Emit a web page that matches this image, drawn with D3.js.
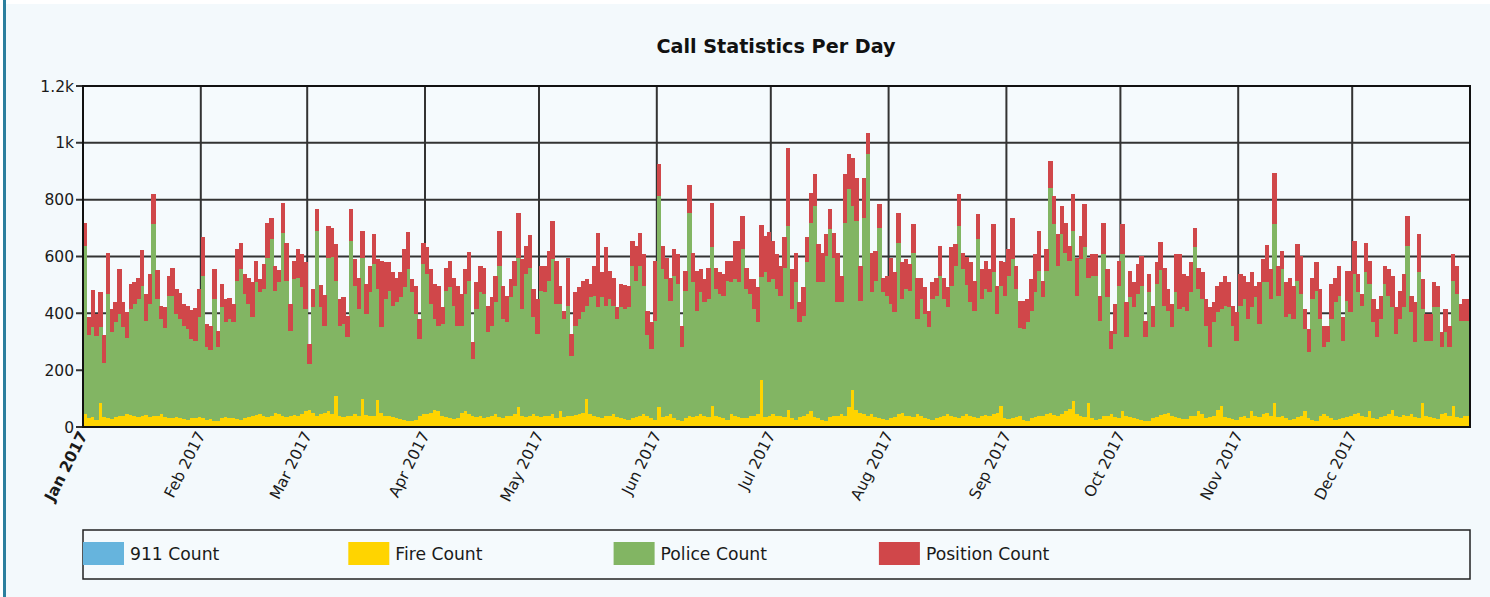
<!DOCTYPE html>
<html><head><meta charset="utf-8">
<script src="https://cdn.jsdelivr.net/npm/d3@7"></script>
<style>
body{margin:0;background:#fff;}
svg{display:block;font-family:"DejaVu Sans",sans-serif;}
</style></head><body>
<svg id="chart" width="1490" height="597"></svg>
<script>
const chartTitle = "Call Statistics Per Day";
const seriesNames = ["911 Count", "Fire Count", "Police Count", "Position Count"];
const seriesColors = ["#66b4dd", "#ffd400", "#82b563", "#d0474a"];
const yTickValues = [0, 200, 400, 600, 800, 1000, 1200];
const yTickLabels = ["0", "200", "400", "600", "800", "1k", "1.2k"];
const monthLabels = ["Jan 2017","Feb 2017","Mar 2017","Apr 2017","May 2017","Jun 2017","Jul 2017","Aug 2017","Sep 2017","Oct 2017","Nov 2017","Dec 2017"];
const firstDay = "2017-01-01", endDay = "2018-01-01";

const count911 = [
0,0,0,0,0,0,0,0,0,0,0,0,0,0,0,0,0,0,0,0,0,0,0,0,0,0,0,0,0,0,0,
0,0,0,0,0,0,0,0,0,0,0,0,0,0,0,0,0,0,0,0,0,0,0,0,0,0,0,0,
0,0,0,0,0,0,0,0,0,0,0,0,0,0,0,0,0,0,0,0,0,0,0,0,0,0,0,0,0,0,0,
0,0,0,0,0,0,0,0,0,0,0,0,0,0,0,0,0,0,0,0,0,0,0,0,0,0,0,0,0,0,
0,0,0,0,0,0,0,0,0,0,0,0,0,0,0,0,0,0,0,0,0,0,0,0,0,0,0,0,0,0,0,
0,0,0,0,0,0,0,0,0,0,0,0,0,0,0,0,0,0,0,0,0,0,0,0,0,0,0,0,0,0,
0,0,0,0,0,0,0,0,0,0,0,0,0,0,0,0,0,0,0,0,0,0,0,0,0,0,0,0,0,0,0,
0,0,0,0,0,0,0,0,0,0,0,0,0,0,0,0,0,0,0,0,0,0,0,0,0,0,0,0,0,0,0,
0,0,0,0,0,0,0,0,0,0,0,0,0,0,0,0,0,0,0,0,0,0,0,0,0,0,0,0,0,0,
0,0,0,0,0,0,0,0,0,0,3,0,0,0,0,0,2,0,0,0,0,0,0,0,0,0,0,0,0,0,0,
0,0,0,0,0,0,0,0,0,0,0,0,0,0,0,0,0,0,0,0,0,0,0,0,0,0,0,0,0,0,
0,0,0,0,0,0,0,0,0,0,0,0,0,0,0,0,0,0,0,0,0,0,0,0,0,0,0,0,0,0,0];

const fireCount = [
45,30,35,25,85,35,30,28,35,40,38,45,42,40,35,38,42,35,40,38,45,35,30,32,36,30,28,25,30,32,35,
30,25,28,20,22,30,35,32,30,28,25,30,35,40,42,45,40,35,38,50,45,40,35,38,42,40,45,55,
60,50,40,45,50,55,45,110,40,35,38,40,45,38,100,42,40,38,95,50,40,38,35,30,28,25,22,20,25,40,45,
45,50,60,55,40,35,30,28,30,50,55,45,38,35,40,30,35,40,45,35,30,38,40,45,70,40,35,38,45,40,
35,40,38,45,30,55,35,40,38,42,45,50,100,45,40,35,30,38,40,45,35,30,28,25,30,35,40,45,38,30,25,
70,35,40,45,30,25,20,30,40,35,38,45,40,35,75,40,35,30,25,45,38,35,30,32,38,40,45,165,35,40,
45,40,38,35,60,30,25,35,40,45,55,35,30,25,22,35,40,38,45,40,70,130,60,50,45,40,45,35,30,28,25,
30,35,45,50,40,38,35,45,40,30,28,25,30,35,40,45,38,35,30,40,45,40,35,30,38,42,40,45,50,75,30,
28,30,35,40,25,22,30,35,38,40,45,50,42,38,45,55,65,90,45,40,35,85,30,25,28,38,40,45,35,30,
55,40,35,30,28,25,20,22,30,35,38,45,50,40,35,30,25,28,38,40,55,45,30,35,40,60,75,35,30,28,25,
35,40,30,55,40,35,45,50,40,85,35,40,30,25,28,35,40,55,30,25,22,40,45,38,30,25,28,30,35,40,
45,50,40,35,55,30,28,35,40,45,60,38,35,42,40,45,35,30,85,40,35,30,28,45,50,40,75,35,30,38,40];

const policeCount = [
592,294,316,294,266,191,438,305,333,358,313,267,373,393,415,459,332,398,673,412,335,312,432,430,362,350,329,320,280,272,351,
502,256,244,430,259,391,333,348,338,487,531,438,398,346,467,429,445,561,623,430,464,644,480,301,478,486,446,360,
162,371,650,376,307,541,555,405,317,328,278,615,452,377,496,356,434,535,390,301,410,442,392,409,428,466,534,454,373,270,528,
493,383,320,302,323,445,461,399,327,307,413,470,202,380,434,438,298,317,394,532,350,330,416,452,526,375,503,523,341,287,
445,434,477,546,403,378,345,387,213,315,335,354,327,411,422,386,426,389,410,382,345,391,387,396,537,480,527,452,284,245,349,
743,521,480,399,502,478,261,450,714,474,371,429,399,415,557,445,433,432,490,464,482,474,596,453,430,375,323,362,509,469,
475,445,424,526,648,385,484,333,352,534,664,743,479,484,580,661,556,401,394,679,766,648,665,394,692,919,429,480,672,446,437,
403,369,604,400,445,442,579,335,410,368,323,425,432,497,410,376,459,532,678,516,455,399,374,631,412,443,434,499,348,422,432,
504,561,450,307,320,346,379,439,512,416,505,792,671,529,633,559,520,600,417,551,597,441,502,507,346,570,416,228,292,467,
553,276,421,391,440,472,296,452,321,468,512,382,359,311,439,385,396,381,436,592,430,405,327,246,328,344,340,392,391,329,276,
392,410,350,366,416,328,464,459,410,628,427,516,356,373,352,480,428,290,233,425,458,340,236,260,350,414,434,274,409,364,
493,424,387,509,448,338,288,345,463,417,361,289,345,379,597,359,263,514,330,264,269,391,393,236,283,241,440,433,344,336,334];

const positionCount = [
82,62,132,79,123,98,146,82,71,158,88,94,88,78,76,126,94,105,106,103,47,74,68,99,87,90,76,82,103,114,99,
138,82,85,106,58,82,82,73,65,111,93,70,93,123,76,46,88,123,76,87,44,103,134,94,65,100,117,164,
70,64,76,78,107,112,100,128,93,93,76,111,94,111,94,105,93,105,106,234,129,99,117,87,88,135,131,46,99,70,76,
94,123,123,140,58,81,94,99,140,111,88,102,58,94,93,93,94,99,93,123,117,94,64,88,156,176,99,114,99,123,
87,93,105,134,152,64,29,169,76,117,111,111,93,47,105,263,88,205,100,99,41,82,84,76,88,122,117,111,87,93,211,
111,81,76,82,94,105,76,70,96,105,141,82,81,111,158,76,76,76,70,76,135,146,117,76,52,105,123,183,129,178,
135,123,105,106,274,141,105,71,99,88,106,111,135,105,76,70,88,175,93,170,123,169,152,123,140,76,140,105,82,52,70,
163,140,105,129,106,93,100,146,76,93,58,59,64,105,76,70,135,76,111,58,100,140,106,87,106,100,82,170,99,88,117,
94,146,82,97,99,82,111,134,140,59,76,94,100,111,100,105,52,129,134,82,152,70,76,76,88,111,100,66,106,88,
106,123,94,88,105,105,58,64,76,76,99,134,76,82,134,193,117,123,105,70,76,94,93,140,71,93,95,105,88,70,105,
111,82,129,123,41,146,82,131,106,182,105,64,123,128,117,128,134,70,82,76,99,105,76,59,123,87,105,82,106,146,
117,64,41,105,82,82,99,82,64,94,111,94,100,117,106,58,141,134,105,94,94,88,76,52,82,76,93,99,59,76,76];

// ---------- layout ----------
const W = 1490, H = 597;
const plot = {left: 83, right: 1470, top: 86, bottom: 427};
const svg = d3.select("#chart");

const parse = d3.timeParse("%Y-%m-%d");
const start = parse(firstDay), end = parse(endDay);
const days = d3.timeDay.range(start, end);
const months = d3.timeMonth.range(start, end);

const x = d3.scaleTime().domain([start, end]).range([plot.left, plot.right]);
const y = d3.scaleLinear().domain([0, 1200]).range([plot.bottom, plot.top]);

// background
svg.append("rect").attr("width", W).attr("height", H).attr("fill", "#ffffff");
svg.append("rect").attr("x", 6).attr("y", 4).attr("width", W - 6).attr("height", H - 4).attr("fill", "#f3f9fc");
svg.append("rect").attr("x", 3).attr("y", 0).attr("width", 3).attr("height", H).attr("fill", "#2b7f9e");
svg.append("rect").attr("x", plot.left).attr("y", plot.top).attr("width", plot.right - plot.left)
  .attr("height", plot.bottom - plot.top).attr("fill", "#f5fafd");

// title
svg.append("text").attr("x", 776).attr("y", 53)
  .attr("text-anchor", "middle").attr("font-size", 19.2).attr("font-weight", "bold")
  .attr("fill", "#111").text(chartTitle);

// gridlines
const grid = svg.append("g").attr("stroke", "#333").attr("stroke-width", 2);
yTickValues.forEach(v => {
  grid.append("line").attr("x1", plot.left - 7).attr("x2", plot.right)
    .attr("y1", y(v)).attr("y2", y(v));
});
months.forEach(m => {
  grid.append("line").attr("x1", x(m)).attr("x2", x(m))
    .attr("y1", plot.top).attr("y2", plot.bottom);
});

// data rows
const keys = ["c911", "fire", "police", "position"];
const rows = days.map((d, i) => ({
  date: d,
  c911: count911[i] || 0,
  fire: fireCount[i] || 0,
  police: policeCount[i] || 0,
  position: positionCount[i] || 0
}));
const stack = d3.stack().keys(keys);
const layers = stack(rows);

const barsG = svg.append("g").attr("shape-rendering", "crispEdges");
layers.forEach((layer, li) => {
  barsG.append("g").attr("fill", seriesColors[li])
    .selectAll("rect").data(layer).join("rect")
    .attr("x", d => x(d.data.date))
    .attr("width", d => x(d3.timeDay.offset(d.data.date, 1)) - x(d.data.date) + 0.6)
    .attr("y", d => y(d[1]))
    .attr("height", d => Math.max(0, y(d[0]) - y(d[1])));
});

// frame
svg.append("rect").attr("x", plot.left).attr("y", plot.top)
  .attr("width", plot.right - plot.left).attr("height", plot.bottom - plot.top)
  .attr("fill", "none").attr("stroke", "#111").attr("stroke-width", 2);

// y labels
svg.append("g").selectAll("text").data(yTickValues).join("text")
  .attr("x", plot.left - 9).attr("y", d => y(d))
  .attr("dy", "0.36em").attr("text-anchor", "end")
  .attr("font-size", 15.5).attr("fill", "#1a1a1a")
  .text((d, i) => yTickLabels[i]);

// x labels
svg.append("g").selectAll("text").data(months).join("text")
  .attr("transform", d => `translate(${x(d) + 5},${plot.bottom + 8}) rotate(-63)`)
  .attr("text-anchor", "end")
  .attr("font-size", 15.5).attr("fill", "#1a1a1a")
  .attr("font-weight", (d, i) => i === 0 ? "bold" : "normal")
  .text((d, i) => monthLabels[i]);

// legend
const lg = {x: 83, y: 530, w: 1387, h: 49};
svg.append("rect").attr("x", lg.x).attr("y", lg.y).attr("width", lg.w).attr("height", lg.h)
  .attr("fill", "#f5fafd").attr("stroke", "#222").attr("stroke-width", 1.5);
const legendItems = svg.append("g").selectAll("g").data(seriesNames).join("g")
  .attr("transform", (d, i) => `translate(${lg.x + i * 265.3},${lg.y + 12})`);
legendItems.append("rect").attr("width", 41).attr("height", 23)
  .attr("fill", (d, i) => seriesColors[i]);
legendItems.append("text").attr("x", 47).attr("y", 12).attr("dy", "0.36em")
  .attr("font-size", 17.2).attr("fill", "#1a1a1a").text(d => d);
</script>
</body></html>
